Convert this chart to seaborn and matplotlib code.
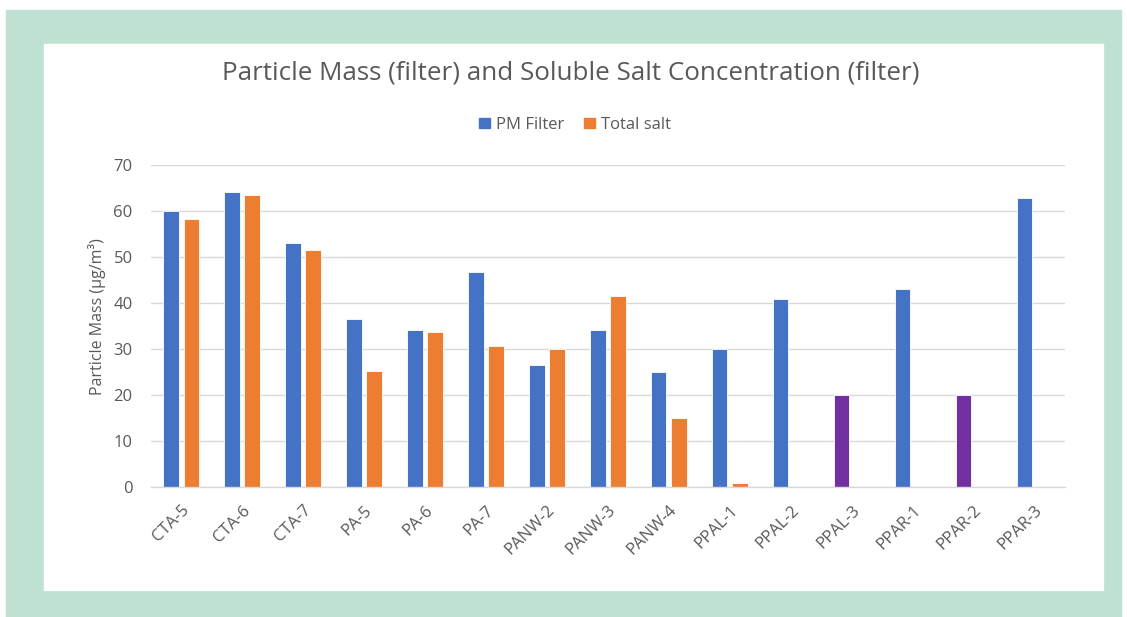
import matplotlib
matplotlib.use('Agg')
import matplotlib.pyplot as plt
import matplotlib.patches as mpatches
import seaborn as sns
import pandas as pd
import numpy as np

# data
samples = ["CTA-5", "CTA-6", "CTA-7", "PA-5", "PA-6", "PA-7", "PANW-2", "PANW-3",
           "PANW-4", "PPAL-1", "PPAL-2", "PPAL-3", "PPAR-1", "PPAR-2", "PPAR-3"]
pm_filter = [60.0, 64.1, 53.1, 36.5, 34.1, 46.8, 26.5, 34.1, 24.9, 30.0, 40.9, 20.0, 43.1, 20.0, 62.8]
total_salt = [58.2, 63.5, 51.6, 25.2, 33.7, 30.6, 30.0, 41.5, 14.9, 0.8,
              np.nan, np.nan, np.nan, np.nan, np.nan]
highlight = ["PPAL-3", "PPAR-2"]   # drawn purple in the original

blue = '#4472C4'
orange = '#ED7D31'
purple = '#7030A0'
grey_txt = '#595959'
grid_col = '#D9D9D9'

df = pd.concat([
    pd.DataFrame({'sample': samples, 'value': pm_filter, 'series': 'PM Filter'}),
    pd.DataFrame({'sample': samples, 'value': total_salt, 'series': 'Total salt'}),
], ignore_index=True)

sns.set_theme(style='white')
plt.rcParams['font.family'] = ['Open Sans', 'DejaVu Sans']

fig = plt.figure(figsize=(11.27, 6.17), dpi=100)
fig.patches.append(mpatches.Rectangle((6/1127, 0), 1115/1127, 1 - 10/617,
                                      transform=fig.transFigure, color='#BEE1D1', zorder=-2))
fig.patches.append(mpatches.Rectangle((44/1127, 1 - 590/617), 1059/1127, 546/617,
                                      transform=fig.transFigure, color='white', zorder=-1))

ax = fig.add_axes([150.7/1127, 1 - 487/617, (1065 - 150.7)/1127, (487 - 165)/617])
ax.set_facecolor('none')

sns.barplot(data=df, x='sample', y='value', hue='series', order=samples,
            palette={'PM Filter': blue, 'Total salt': orange}, saturation=1,
            width=0.667, gap=0.23, errorbar=None, ax=ax,
            edgecolor='white', linewidth=0.6, legend=False)

for bar, name in zip(ax.containers[0], samples):
    if name in highlight:
        bar.set_facecolor(purple)

ax.set_ylim(0, 70)
ax.set_xlim(-0.5, len(samples) - 0.5)
ax.set_yticks(range(0, 71, 10))
ax.yaxis.grid(True, color=grid_col, linewidth=1)
ax.set_axisbelow(True)
for s in ['top', 'right', 'left']:
    ax.spines[s].set_visible(False)
ax.spines['bottom'].set_color(grid_col)
ax.spines['bottom'].set_linewidth(1)

ax.tick_params(axis='y', length=0, pad=13, labelsize=12, labelcolor=grey_txt)
ax.tick_params(axis='x', which='major', length=0, pad=11, labelsize=12, labelcolor=grey_txt)
ax.set_xticks(np.arange(-0.5, len(samples)), minor=True)
ax.tick_params(axis='x', which='minor', length=5, color=grid_col, width=1)
plt.setp(ax.get_xticklabels(), rotation=45, ha='right', rotation_mode='anchor')

ax.set_xlabel('')
ax.set_ylabel('Particle Mass (µg/m³)', fontsize=11.5, color=grey_txt)
ax.yaxis.set_label_coords(-0.049, 0.53)

fig.text(571/1127, 1 - 73/617, 'Particle Mass (filter) and Soluble Salt Concentration (filter)',
         ha='center', va='center', fontsize=18.7, color=grey_txt)

handles = [mpatches.Patch(color=blue, label='PM Filter'),
           mpatches.Patch(color=orange, label='Total salt')]
fig.legend(handles=handles, loc='center', bbox_to_anchor=(575/1127, 1 - 125/617), ncol=2,
           frameon=False, fontsize=12, labelcolor=grey_txt, handlelength=0.65,
           handleheight=0.6, handletextpad=0.35, columnspacing=1.2)

plt.savefig('out.png', dpi=100, facecolor='white')
